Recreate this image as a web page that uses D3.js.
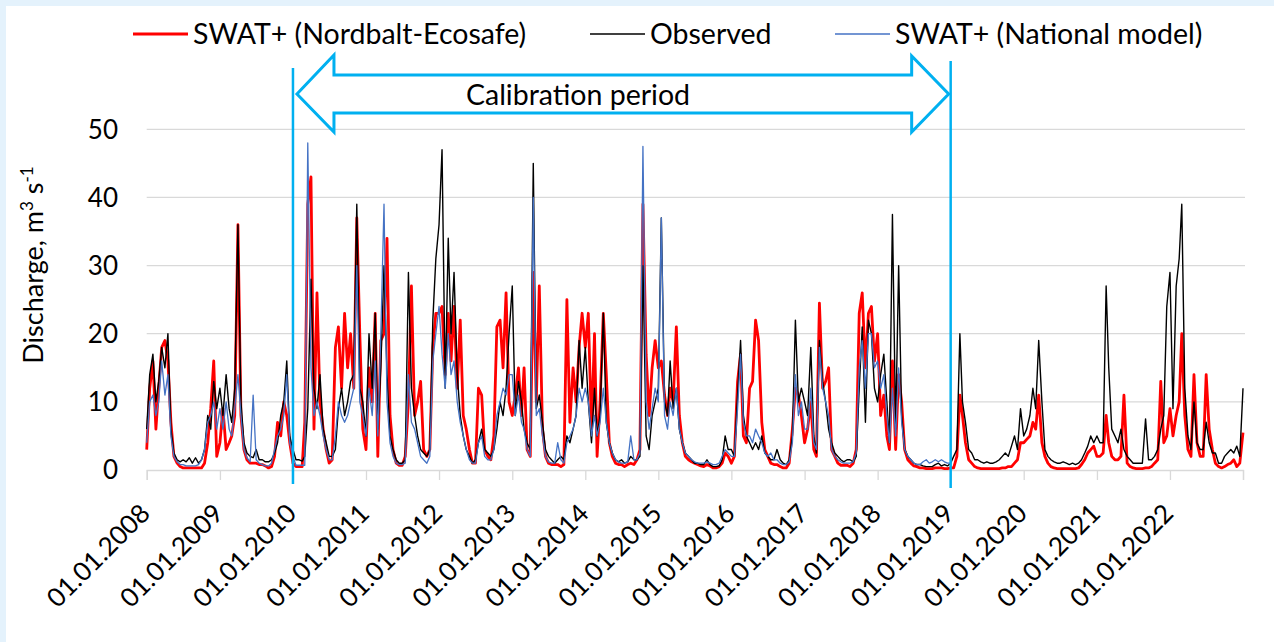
<!DOCTYPE html>
<html>
<head>
<meta charset="utf-8">
<script src="https://cdn.jsdelivr.net/npm/d3@7"></script>
<style>
  body { margin: 0; background: #e4f2fc; }
  svg { display: block; font-family: Lato, "Open Sans", sans-serif; }
</style>
</head>
<body>
<div id="chart"></div>
<script>
// semi-monthly readings (1st and 16th of each month), 01.01.2008 .. 01.01.2023
const observed = [
  6, 14, 17, 10, 13, 18, 15, 20, 6, 2.5, 1.5, 1.2, 1.5, 1.2, 1.8, 1.0, 1.8, 1.0, 1.5, 3, 8, 6, 13, 9,
  12, 8, 14, 9, 7, 12, 36, 10, 4, 2.5, 2, 1.8, 3, 1.5, 1.5, 1.2, 1.2, 1.5, 2.5, 4, 8, 10, 16, 5,
  3, 1.5, 1.5, 1.3, 2, 9, 28, 12, 9, 14, 6, 4, 2, 2, 3, 9, 12, 8, 10, 13, 14, 39, 12, 10,
  5, 20, 12, 23, 6, 15, 30, 14, 5, 3, 1.5, 1, 1, 1.5, 29, 12, 8, 5, 3, 2.5, 2, 3, 22, 31,
  36, 47, 12, 34, 20, 29, 14, 8, 5, 3, 2, 1, 1.5, 4, 6, 3, 2.5, 2, 3, 6, 10, 8, 12, 20,
  27, 8, 13, 10, 6, 4, 3, 45, 9, 11, 7, 3, 2, 1.5, 1, 1.5, 2, 1.5, 5, 4, 6, 8, 19, 12,
  18, 10, 4, 12, 5, 8, 23, 7, 4, 2.5, 1.5, 1.2, 1.5, 1, 1.2, 2, 1.5, 1.5, 2, 30, 5, 3, 8, 10,
  12, 37, 10, 8, 16, 9, 12, 6, 4, 2.5, 2, 1.5, 1, 1, 0.8, 0.8, 1.5, 0.8, 0.5, 0.5, 0.6, 1.5, 5, 3,
  3, 2, 11, 19, 8, 5, 4, 3, 4, 3, 5, 2.5, 2, 1.5, 1.5, 3, 1.5, 1, 0.8, 1.5, 5, 22, 10, 12,
  10, 8, 18, 5, 2.5, 19, 13, 10, 6, 4, 2.5, 2, 1.5, 1.2, 1.5, 1.5, 1.2, 2, 12, 21, 7, 22, 20, 12,
  10, 14, 17, 10, 4, 37.5, 6, 30, 8, 3, 2, 1.5, 1, 0.8, 0.8, 0.6, 0.5, 0.5, 0.5, 0.8, 1, 0.6, 0.8, 0.6,
  1, 2, 3, 20, 10, 7, 3, 2.5, 1.5, 1.5, 1.2, 1, 1.2, 1, 1, 1.2, 1.5, 2, 2.5, 2, 3.5, 5, 3, 9,
  5, 6, 8, 12, 9, 19, 10, 3, 2, 1.5, 1.2, 1, 1, 1.2, 1, 0.8, 1, 0.8, 1, 1.5, 2.5, 3.5, 5, 4,
  5, 4, 4, 27, 15, 6, 5, 4, 6, 3, 2, 1.5, 1, 1, 1, 1, 7.5, 1.5, 1.5, 2, 3, 6, 8, 24,
  29, 9, 27, 31, 39, 12, 5, 3, 10, 4, 3, 3, 7, 4, 2.5, 2.5, 1, 1, 2, 2.5, 3, 2.5, 3.5, 2,
  12
]

const swatNordbalt = [
  3, 12, 16, 6, 12, 18, 19, 16, 7, 2, 1, 0.5, 0.3, 0.3, 0.3, 0.3, 0.3, 0.3, 0.3, 1, 4, 9, 16, 2,
  4, 9, 3, 4, 5, 8, 36, 8, 3, 1.5, 1, 1, 1, 0.8, 0.8, 0.6, 0.3, 0.5, 2, 7, 5, 10, 8, 4,
  1, 0.5, 0.5, 0.5, 7, 39, 43, 6, 26, 10, 6, 3, 1, 1.5, 18, 21, 12, 23, 15, 20, 12, 37, 20, 6,
  3, 15, 10, 23, 2, 19, 20, 34, 8, 3, 1, 0.7, 0.7, 2, 10, 27, 8, 10, 13, 3, 2, 3, 18, 23,
  23, 24, 14, 23, 16, 24, 12, 22, 8, 6, 3, 1, 1, 12, 11, 3, 2, 1.5, 5, 21, 22, 15, 26, 10,
  8, 11, 15, 8, 15, 3, 2, 29, 10, 27, 6, 2, 1, 0.8, 0.8, 0.8, 0.5, 0.8, 25, 7, 15, 10, 18, 23,
  18, 23, 6, 20, 2, 10, 23, 14, 4, 2, 1, 0.8, 0.8, 0.5, 0.8, 1, 0.8, 1.5, 3, 39, 17, 8, 15, 19,
  15, 16, 11, 8, 12, 10, 21, 8, 4, 2, 1.5, 1.2, 1, 0.8, 0.6, 0.5, 0.8, 0.6, 0.3, 0.3, 0.5, 1, 2.5, 2,
  1, 2, 13, 17, 5, 4, 12, 13, 22, 19, 7, 3, 2, 1, 0.8, 0.8, 0.5, 0.3, 0.3, 1, 6, 12, 11, 8,
  4, 6, 10, 3, 2, 24.5, 12, 13, 15, 3, 2, 1, 0.7, 0.7, 0.7, 0.5, 1, 3, 23, 26, 15, 23, 24, 16,
  20, 8, 11, 5, 3, 16, 3, 14, 10, 3, 1.5, 1, 0.6, 0.5, 0.3, 0.3, 0.2, 0.2, 0.2, 0.3, 0.3, 0.3, 0.2, 0.2,
  0.3, 0.3, 2, 11, 8, 4, 1.5, 1, 0.5, 0.3, 0.2, 0.2, 0.2, 0.2, 0.2, 0.2, 0.2, 0.3, 0.3, 0.5, 0.5, 1, 1.5, 4,
  4, 4.5, 5, 7, 6, 11, 4, 2, 1, 0.5, 0.3, 0.2, 0.2, 0.2, 0.2, 0.2, 0.2, 0.2, 0.3, 0.8, 1.5, 2.5, 3, 3.5,
  2, 2, 2.5, 8, 4, 2, 1.5, 1.5, 2, 11, 1, 0.5, 0.3, 0.2, 0.2, 0.2, 0.3, 0.3, 0.5, 1, 1.5, 13, 4, 5,
  9, 5, 8, 10, 20, 8, 3, 2, 14, 4, 2, 2, 14, 6, 3, 1, 0.5, 0.3, 0.5, 0.8, 1, 1.5, 0.5, 1,
  5.5
]

// national model only runs to the end of the calibration period
const swatNational = [
  4, 10, 11, 8, 10, 16, 11, 14, 5, 2, 1.2, 0.8, 0.8, 0.6, 0.6, 0.6, 0.6, 0.8, 1.5, 3, 7, 8, 10, 6,
  9, 6, 10, 6, 5, 9, 14, 8, 3, 1.8, 1.2, 11, 1.5, 1, 0.8, 0.6, 0.6, 1, 3, 5, 6, 8, 14, 4,
  2, 0.7, 0.7, 0.7, 0.7, 48, 15, 8, 10, 8, 5, 3, 1.5, 1.5, 5, 10, 8, 7, 8, 10, 12, 30, 10, 8,
  5, 12, 8, 16, 5, 20, 39, 10, 4, 2, 1, 0.8, 0.8, 1, 14, 7, 6, 4, 2, 1.5, 1, 2, 16, 20,
  24, 17, 12, 20, 14, 16, 10, 7, 5, 3, 1.5, 1, 1, 4, 5, 2, 1.5, 1.5, 3, 8, 10, 12, 11, 14,
  14, 8, 11, 7, 6, 3, 2, 40, 8, 9, 5, 2, 1.2, 1, 1, 4, 1.5, 1, 4, 5, 6, 8, 12, 10,
  12, 10, 5, 8, 5, 7, 12, 7, 4, 2.5, 1.5, 1.2, 1, 1, 1.2, 5, 1.5, 1.5, 2.5, 47.5, 10, 6, 9, 12,
  10, 37, 8, 6, 10, 8, 12, 6, 4, 2.5, 2, 1.5, 1.2, 1, 1, 1, 1.2, 1, 0.8, 0.8, 1, 2, 3, 2.5,
  2, 2, 9, 17, 7, 5, 5, 4, 6, 5, 4, 2.5, 2, 2.5, 1.5, 1.5, 1, 0.8, 0.8, 1.2, 4, 14, 8, 10,
  6, 6, 12, 4, 3, 18, 12, 10, 8, 3, 2, 1.5, 1.2, 1, 1, 1, 1.2, 2.5, 15, 19, 12, 20, 20, 15,
  16, 12, 14, 8, 4, 12, 5, 15, 7, 3, 2, 1.5, 1, 0.8, 0.8, 1.2, 1.5, 1, 1.2, 1.5, 1.2, 1.5, 1.2, 1,
  1
]

const seriesNames = ['SWAT+ (Nordbalt-Ecosafe)', 'Observed', 'SWAT+ (National model)']
const yTicks = [0, 10, 20, 30, 40, 50]
const tickYears = d3.range(2008, 2023)
const calibration = [new Date(2010, 0, 1), new Date(2019, 0, 1)]
const calibrationLabel = 'Calibration period'

const width = 1274
const height = 642
const blue = '#00b0f0'

// i-th reading is on the 1st or 16th of a month
const dateAt = i => new Date(2008 + Math.floor(i / 24), Math.floor((i % 24) / 2), i % 2 ? 16 : 1)

const series = [
  { name: seriesNames[0], values: swatNordbalt, color: '#ff0000', w: 2.8, lx: 133 },
  { name: seriesNames[1], values: observed, color: '#000000', w: 1.4, lx: 590 },
  { name: seriesNames[2], values: swatNational, color: '#4472c4', w: 1.3, lx: 835 }
]

const x = d3.scaleTime()
  .domain([new Date(2008, 0, 1), new Date(2023, 0, 1)])
  .range([146.7, 1243])

const y = d3.scaleLinear()
  .domain([0, 50])
  .range([470, 129.3])

const svg = d3.select('#chart').append('svg')
  .attr('width', width)
  .attr('height', height)

svg.append('rect')
  .attr('x', 6).attr('y', 6)
  .attr('width', width - 6).attr('height', height - 6)
  .attr('fill', '#fff')

// gridlines
svg.append('g')
  .selectAll('line')
  .data(yTicks.slice(1))
  .enter().append('line')
  .attr('x1', x.range()[0]).attr('x2', 1245)
  .attr('y1', d => y(d)).attr('y2', d => y(d))
  .attr('stroke', '#d9d9d9').attr('stroke-width', 1.3)

// x axis line + year ticks
let xAxis = svg.append('g')
  .attr('transform', `translate(0,${y(0)})`)
  .call(d3.axisBottom(x)
    .tickValues(d3.range(2008, 2024).map(yr => new Date(yr, 0, 1)))
    .tickSize(10)
    .tickFormat(''))
xAxis.select('.domain').attr('stroke', '#d9d9d9').attr('stroke-width', 1.3)
xAxis.selectAll('.tick line').attr('stroke', '#d9d9d9').attr('stroke-width', 1.3)

svg.append('g')
  .selectAll('text')
  .data(tickYears)
  .enter().append('text')
  .attr('transform', d => `translate(${x(new Date(d, 0, 1)) + 5},515) rotate(-45)`)
  .attr('text-anchor', 'end')
  .attr('font-size', 26)
  .attr('fill', '#000')
  .text(d => `01.01.${d}`)

// y tick labels
svg.append('g')
  .selectAll('text')
  .data(yTicks)
  .enter().append('text')
  .attr('x', 118)
  .attr('y', d => y(d) + 9.3)
  .attr('text-anchor', 'end')
  .attr('font-size', 26)
  .text(d => d)

let yTitle = svg.append('text')
  .attr('transform', 'translate(43,265) rotate(-90)')
  .attr('text-anchor', 'middle')
  .attr('font-size', 27)
yTitle.append('tspan').text('Discharge, m')
yTitle.append('tspan').attr('dy', -10).attr('font-size', 17).text('3')
yTitle.append('tspan').attr('dy', 10).text(' s')
yTitle.append('tspan').attr('dy', -10).attr('font-size', 17).text('-1')

// series lines
const line = d3.line()
  .x((d, i) => x(dateAt(i)))
  .y(d => y(d))

svg.append('g')
  .selectAll('path')
  .data(series)
  .enter().append('path')
  .attr('d', d => line(d.values))
  .attr('fill', 'none')
  .attr('stroke', d => d.color)
  .attr('stroke-width', d => d.w)
  .attr('stroke-linejoin', 'round')

// legend
let legend = svg.append('g')
  .selectAll('g')
  .data(series)
  .enter().append('g')
  .attr('transform', d => `translate(${d.lx},34)`)
legend.append('line')
  .attr('x1', 0).attr('x2', 55)
  .attr('stroke', d => d.color)
  .attr('stroke-width', d => d.w)
legend.append('text')
  .attr('x', 60).attr('y', 10)
  .attr('font-size', 28.5)
  .text(d => d.name)

// calibration period marker
const cx0 = x(calibration[0])
const cx1 = x(calibration[1])

svg.append('line')
  .attr('x1', cx0).attr('x2', cx0).attr('y1', 68).attr('y2', 484)
  .attr('stroke', blue).attr('stroke-width', 2.5)
svg.append('line')
  .attr('x1', cx1).attr('x2', cx1).attr('y1', 61).attr('y2', 488)
  .attr('stroke', blue).attr('stroke-width', 2.5)

const l = cx0 + 4, r = cx1 - 2, head = 37
const arrow = [
  [l, 94], [l + head, 55], [l + head, 75], [r - head, 75], [r - head, 56],
  [r, 94], [r - head, 132], [r - head, 113], [l + head, 113], [l + head, 132]
]
svg.append('path')
  .attr('d', d3.line()(arrow) + 'Z')
  .attr('fill', '#fff')
  .attr('stroke', blue)
  .attr('stroke-width', 3)
  .attr('stroke-linejoin', 'miter')

svg.append('text')
  .attr('x', 578).attr('y', 105)
  .attr('text-anchor', 'middle')
  .attr('font-size', 28.5)
  .text(calibrationLabel)
</script>
</body>
</html>
